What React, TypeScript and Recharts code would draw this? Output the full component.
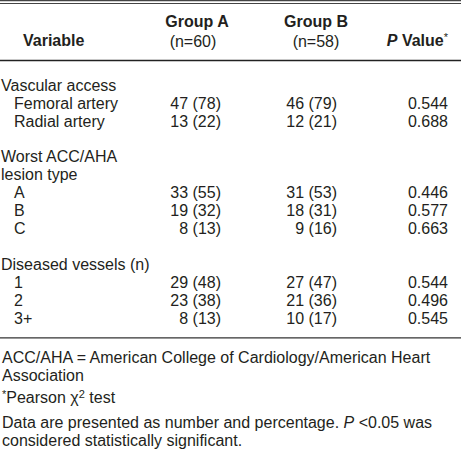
import { ScatterChart, Scatter, XAxis, YAxis, ReferenceLine } from 'recharts';

const sections = ['Vascular access', 'Worst ACC/AHA|lesion type', 'Diseased vessels (n)'];
const sectionSizes = [2, 3, 3];
const categories = ['Femoral artery', 'Radial artery', 'A', 'B', 'C', '1', '2', '3+'];
const groupACount = [47, 13, 33, 19, 8, 29, 23, 8];
const groupAPct = [78, 22, 55, 32, 13, 48, 38, 13];
const groupBCount = [46, 12, 31, 18, 9, 27, 21, 10];
const groupBPct = [79, 21, 53, 31, 16, 47, 36, 17];
const pValues = ['0.544', '0.688', '0.446', '0.577', '0.663', '0.544', '0.496', '0.545'];

const headers = ['Variable', 'Group A', '(n=60)', 'Group B', '(n=58)', 'P Value*'];
const footnotes = [
  'ACC/AHA = American College of Cardiology/American Heart',
  'Association',
  '*Pearson χ2 test',
  'Data are presented as number and percentage. P <0.05 was',
  'considered statistically significant.'
];

// layout (px in x, row slots in y)
const COL = { section: 1, label: 14, a: 221, b: 337, p: 448, var: 23, ga: 197, gb: 316 };
const FONT = '"Liberation Sans", Arial, sans-serif';
const INK = '#231f20';

type Part = { t: string; s?: 'b' | 'i' | 'bi' | 'sup' };
type Cell = { x: number; y: number; anchor: string; parts: Part[] };

const cells: Cell[] = [];
let slot = 0;
let idx = 0;
sections.forEach((sec, si) => {
  sec.split('|').forEach((line) => {
    cells.push({ x: COL.section, y: slot, anchor: 'start', parts: [{ t: line }] });
    slot += 1;
  });
  for (let k = 0; k < sectionSizes[si]; k++) {
    const i = idx + k;
    cells.push({ x: COL.label, y: slot, anchor: 'start', parts: [{ t: categories[i] }] });
    cells.push({ x: COL.a, y: slot, anchor: 'end', parts: [{ t: `${groupACount[i]} (${groupAPct[i]})` }] });
    cells.push({ x: COL.b, y: slot, anchor: 'end', parts: [{ t: `${groupBCount[i]} (${groupBPct[i]})` }] });
    cells.push({ x: COL.p, y: slot, anchor: 'end', parts: [{ t: pValues[i] }] });
    slot += 1;
  }
  idx += sectionSizes[si];
  slot += 1;
});

// header
cells.push({ x: COL.var, y: -2.5, anchor: 'start', parts: [{ t: headers[0], s: 'b' }] });
cells.push({ x: COL.ga, y: -3.55, anchor: 'middle', parts: [{ t: headers[1], s: 'b' }] });
cells.push({ x: COL.ga - 4, y: -2.45, anchor: 'middle', parts: [{ t: headers[2] }] });
cells.push({ x: COL.gb, y: -3.55, anchor: 'middle', parts: [{ t: headers[3], s: 'b' }] });
cells.push({ x: COL.gb, y: -2.45, anchor: 'middle', parts: [{ t: headers[4] }] });
cells.push({
  x: COL.p, y: -2.5, anchor: 'end',
  parts: [{ t: 'P', s: 'bi' }, { t: ' Value', s: 'b' }, { t: '*', s: 'sup' }]
});

// footnotes
const footY = [15.2, 16.2, 17.45, 18.85, 19.85];
cells.push({ x: 2, y: footY[0], anchor: 'start', parts: [{ t: footnotes[0] }] });
cells.push({ x: 2, y: footY[1], anchor: 'start', parts: [{ t: footnotes[1] }] });
cells.push({
  x: 2, y: footY[2], anchor: 'start',
  parts: [{ t: '*', s: 'sup' }, { t: 'Pearson χ' }, { t: '2', s: 'sup' }, { t: ' test' }]
});
cells.push({
  x: 2, y: footY[3], anchor: 'start',
  parts: [{ t: 'Data are presented as number and percentage. ' }, { t: 'P', s: 'i' }, { t: ' <0.05 was' }]
});
cells.push({ x: 2, y: footY[4], anchor: 'start', parts: [{ t: footnotes[4] }] });

const TextCell = (props: any) => {
  const { cy, payload } = props;
  let shift = 0;
  return (
    <text x={payload.x} y={cy + 5.8} textAnchor={payload.anchor} fontFamily={FONT} fontSize={16} fill={INK}>
      {payload.parts.map((p: Part, i: number) => {
        const target = p.s === 'sup' ? -5 : 0;
        const dy = target - shift;
        shift = target;
        return (
          <tspan
            key={i}
            dy={dy}
            fontSize={p.s === 'sup' ? 11 : 16}
            fontWeight={p.s === 'b' || p.s === 'bi' ? 'bold' : 'normal'}
            fontStyle={p.s === 'i' || p.s === 'bi' ? 'italic' : 'normal'}
          >
            {p.t}
          </tspan>
        );
      })}
    </text>
  );
};

export default function App() {
  return (
    <div style={{ position: 'absolute', left: 0, top: 0, background: '#fff' }}>
      <ScatterChart width={461} height={460} margin={{ top: 0, right: 0, bottom: 0, left: 0 }}>
        <XAxis type='number' dataKey='x' domain={[0, 461]} hide />
        <YAxis type='number' dataKey='y' domain={[-4.75, 20.95]} reversed hide />
        <ReferenceLine y={-4.72} stroke='#444' strokeWidth={1.2} />
        <ReferenceLine y={-4.555} stroke='#444' strokeWidth={1.2} />
        <ReferenceLine y={-1.37} stroke='#222' strokeWidth={1.5} />
        <ReferenceLine y={14.13} stroke='#333' strokeWidth={1.3} />
        <Scatter data={cells} shape={TextCell} isAnimationActive={false} />
      </ScatterChart>
    </div>
  );
}
